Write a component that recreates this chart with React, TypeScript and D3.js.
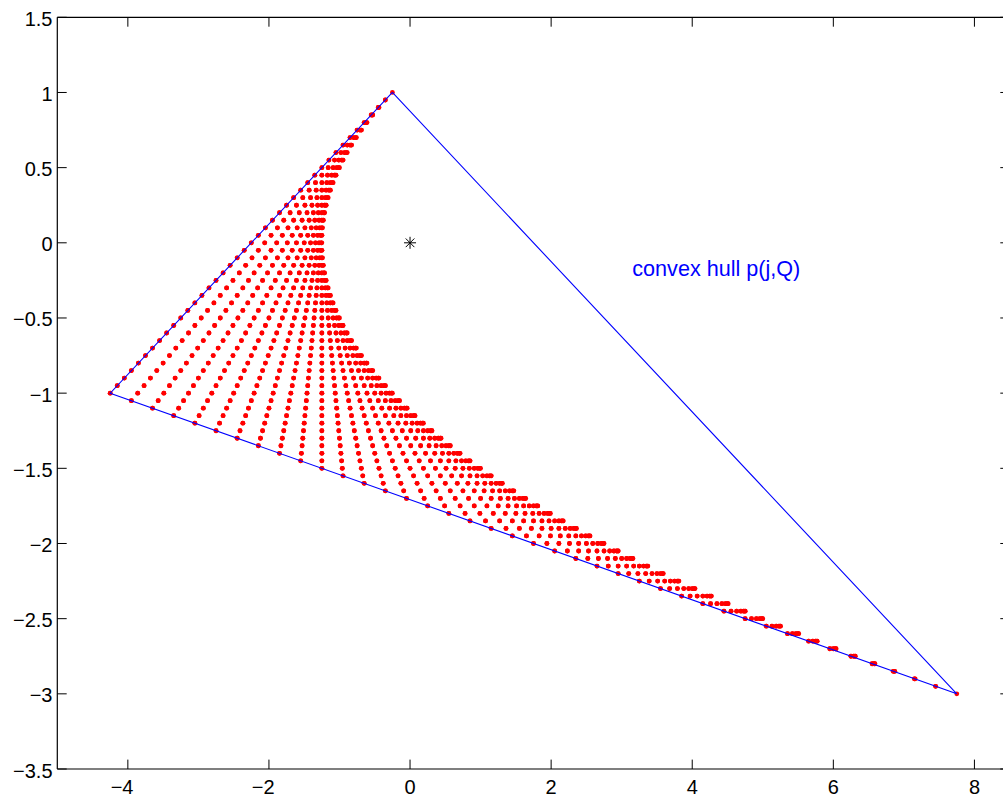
import React from "react";
import * as d3 from "d3";

// Hull vertices (A, B, C)
const hullX = [-0.25, -4.25, 7.75];
const hullY = [1, -1, -3];

// Grid parameters used for the point family p(j,Q)
const params = [
  0, 0.025, 0.05, 0.075, 0.1, 0.125, 0.15, 0.175, 0.2, 0.225,
  0.25, 0.275, 0.3, 0.325, 0.35, 0.375, 0.4, 0.425, 0.45, 0.475,
  0.5, 0.525, 0.55, 0.575, 0.6, 0.625, 0.65, 0.675, 0.7, 0.725,
  0.75, 0.775, 0.8, 0.825, 0.85, 0.875, 0.9, 0.925, 0.95, 0.975, 1,
];

// Centre marker
const starX = [0];
const starY = [0];

const xTicks = [-4, -2, 0, 2, 4, 6, 8];
const yTicks = [1.5, 1, 0.5, 0, -0.5, -1, -1.5, -2, -2.5, -3, -3.5];

const labelText = "convex hull p(j,Q)";
const labelPos = [3.15, -0.2];

const W = 1003;
const H = 797;

export default function App() {
  const x = d3.scaleLinear().domain([-5, 8.5]).range([57.3, 1009.7]);
  const y = d3.scaleLinear().domain([-3.5, 1.5]).range([769, 17.3]);

  const [ax, bx, cx] = hullX;
  const [ay, by, cy] = hullY;

  const pts: [number, number][] = [];
  params.forEach((u) => {
    const p2x = (1 - u) * bx + u * cx;
    const p2y = (1 - u) * by + u * cy;
    const p1x = (1 - u) * ax + u * bx;
    const p1y = (1 - u) * ay + u * by;
    params.forEach((v) => {
      pts.push([(1 - v) * p2x + v * p1x, (1 - v) * p2y + v * p1y]);
    });
  });

  const hullLine = d3
    .line<number>()
    .x((i) => x(hullX[i]))
    .y((i) => y(hullY[i]));
  const hullPath = hullLine([0, 1, 2, 0]) || "";

  const x0 = x(-5);
  const x1 = x(8.5);
  const y0 = y(-3.5);
  const y1 = y(1.5);
  const tl = 9.4;
  const font = "'Liberation Sans', Arial, Helvetica, sans-serif";

  const fmt = (v: number) => (v < 0 ? "\u2212" + String(-v) : String(v));

  return (
    <div style={{ position: "absolute", left: 0, top: 0 }}>
      <svg width={W} height={H} style={{ display: "block", background: "#fff" }}>
        <rect x={0} y={0} width={W} height={H} fill="#fff" />
        {/* dots */}
        <g fill="#ff0000">
          {pts.map((p, i) => (
            <circle key={i} cx={x(p[0])} cy={y(p[1])} r={2.4} />
          ))}
        </g>
        {/* hull */}
        <path d={hullPath} fill="none" stroke="#0000ff" strokeWidth={1.1} />
        {/* star */}
        {starX.map((sx, i) => {
          const px = x(sx);
          const py = y(starY[i]);
          const r = 6;
          const d = r * 0.72;
          return (
            <g key={i} stroke="#000" strokeWidth={1}>
              <line x1={px - r} y1={py} x2={px + r} y2={py} />
              <line x1={px} y1={py - r} x2={px} y2={py + r} />
              <line x1={px - d} y1={py - d} x2={px + d} y2={py + d} />
              <line x1={px - d} y1={py + d} x2={px + d} y2={py - d} />
            </g>
          );
        })}
        <text
          x={x(labelPos[0])}
          y={y(labelPos[1]) + 3.5}
          fill="#0000ff"
          fontFamily={font}
          fontSize={21.6}
        >
          {labelText}
        </text>
        {/* axes box */}
        <g stroke="#000" strokeWidth={1.2} fill="none">
          <line x1={x0} y1={y0} x2={x1} y2={y0} />
          <line x1={x0} y1={y1} x2={x1} y2={y1} />
          <line x1={x0} y1={y0} x2={x0} y2={y1} />
          <line x1={x1} y1={y0} x2={x1} y2={y1} />
        </g>
        {/* ticks */}
        <g stroke="#000" strokeWidth={1}>
          {xTicks.map((t) => (
            <g key={"xt" + t}>
              <line x1={x(t)} y1={y0} x2={x(t)} y2={y0 - tl} />
              <line x1={x(t)} y1={y1} x2={x(t)} y2={y1 + tl} />
            </g>
          ))}
          {yTicks.map((t) => (
            <g key={"yt" + t}>
              <line x1={x0} y1={y(t)} x2={x0 + tl} y2={y(t)} />
              <line x1={x1} y1={y(t)} x2={x1 - tl} y2={y(t)} />
            </g>
          ))}
        </g>
        {/* tick labels */}
        <g fontFamily={font} fontSize={20} fill="#000">
          {xTicks.map((t) => (
            <text key={"xl" + t} x={x(t) + 5.6} y={y0 + 25} textAnchor="end">
              {fmt(t)}
            </text>
          ))}
          {yTicks.map((t) => (
            <text key={"yl" + t} x={52.5} y={y(t) + 8.5} textAnchor="end">
              {fmt(t)}
            </text>
          ))}
        </g>
      </svg>
    </div>
  );
}
